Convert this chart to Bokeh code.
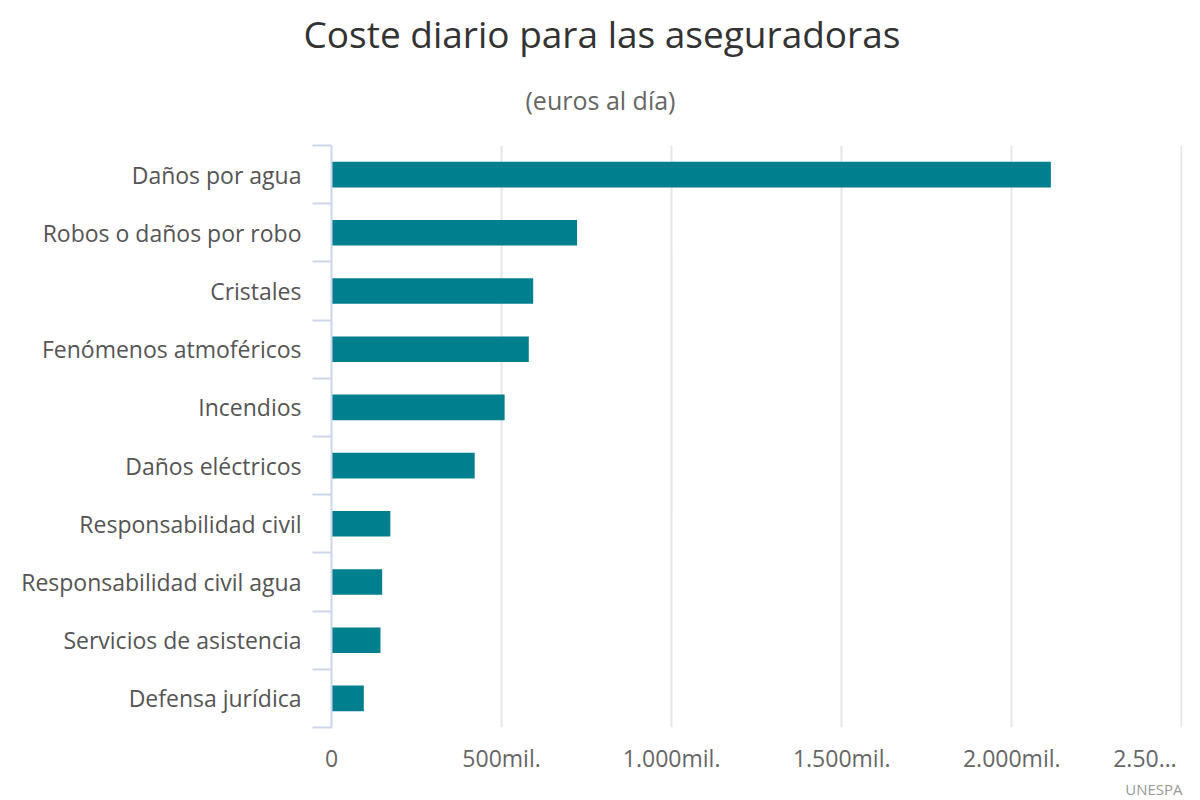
from bokeh.plotting import figure
from bokeh.models import Range1d, FixedTicker, Title, ColumnDataSource
from bokeh.embed import file_html
from bokeh.resources import INLINE

categories = ["Daños por agua", "Robos o daños por robo", "Cristales",
              "Fenómenos atmoféricos", "Incendios", "Daños eléctricos",
              "Responsabilidad civil", "Responsabilidad civil agua",
              "Servicios de asistencia", "Defensa jurídica"]
values = [2115000, 722000, 593000, 580000, 509000, 421000, 173000, 149000, 144000, 95000]
x_ticks = [0, 500000, 1000000, 1500000, 2000000, 2500000]
x_tick_labels = ["0", "500mil.", "1.000mil.", "1.500mil.", "2.000mil.", "2.50…"]

FONT = "Open Sans"
W, H = 1200, 800
FL, FT, FR, FB = 331, 145, 1182, 727  # frame edges
n = len(categories)
ypos = list(range(n))

p = figure(width=W, height=H, output_backend="svg", toolbar_location=None,
           title=None,
           x_range=Range1d(0, 2502000), y_range=Range1d(n - 0.5, -0.5),
           min_border_left=FL, min_border_right=W - FR, min_border_top=FT,
           min_border_bottom=H - FB)
p.outline_line_color = None
p.background_fill_color = "white"
p.border_fill_color = "white"

src = ColumnDataSource(dict(y=ypos, v=values))
p.hbar(y="y", left=0, right="v", height=0.44, source=src,
       fill_color="#007f8f", line_color=None)

# x axis (values)
labels = dict(zip(x_ticks, x_tick_labels))
labels[x_ticks[-1]] = labels[x_ticks[-1]] + "\u00a0" * 4  # keep it inside the page, as in the reference
xa = p.xaxis[0]
xa.ticker = FixedTicker(ticks=x_ticks)
xa.major_label_overrides = labels
xa.axis_line_color = None
xa.major_tick_line_color = None
xa.minor_tick_line_color = None
xa.major_label_text_font = FONT
xa.major_label_text_font_size = "23px"
xa.major_label_text_color = "#666666"
xa.major_label_standoff = 8

# y axis (categories)
ya = p.yaxis[0]
ya.ticker = FixedTicker(ticks=ypos, minor_ticks=[i - 0.5 for i in range(n + 1)])
ya.major_label_overrides = {i: c for i, c in enumerate(categories)}
ya.axis_line_color = "#ccd6eb"
ya.axis_line_width = 2
ya.major_tick_line_color = None
ya.major_tick_out = 0
ya.minor_tick_line_color = "#ccd6eb"
ya.minor_tick_line_width = 2
ya.minor_tick_out = 19
ya.minor_tick_in = 0
ya.major_label_text_font = FONT
ya.major_label_text_font_size = "23px"
ya.major_label_text_color = "#555555"
ya.major_label_standoff = 11

p.xgrid.grid_line_color = "#e6e6e6"
p.xgrid.grid_line_width = 2
p.ygrid.grid_line_color = None

# titles centred on the page (offset is measured from the frame's left edge)
sub = Title(text="(euros al día)", align="left", text_font=FONT,
            text_font_size="25px", text_color="#666666", text_font_style="normal",
            standoff=57, offset=194)
title = Title(text="Coste diario para las aseguradoras", align="left",
              text_font=FONT, text_font_size="37px", text_color="#333333",
              text_font_style="normal", standoff=-12, offset=-28)
p.add_layout(sub, "above")
p.add_layout(title, "above")

credit = Title(text="UNESPA", align="right", text_font=FONT,
               text_font_size="15px", text_color="#999999",
               text_font_style="normal", standoff=0)
p.add_layout(credit, "below")

open("out.html", "w").write(file_html(p, INLINE))
